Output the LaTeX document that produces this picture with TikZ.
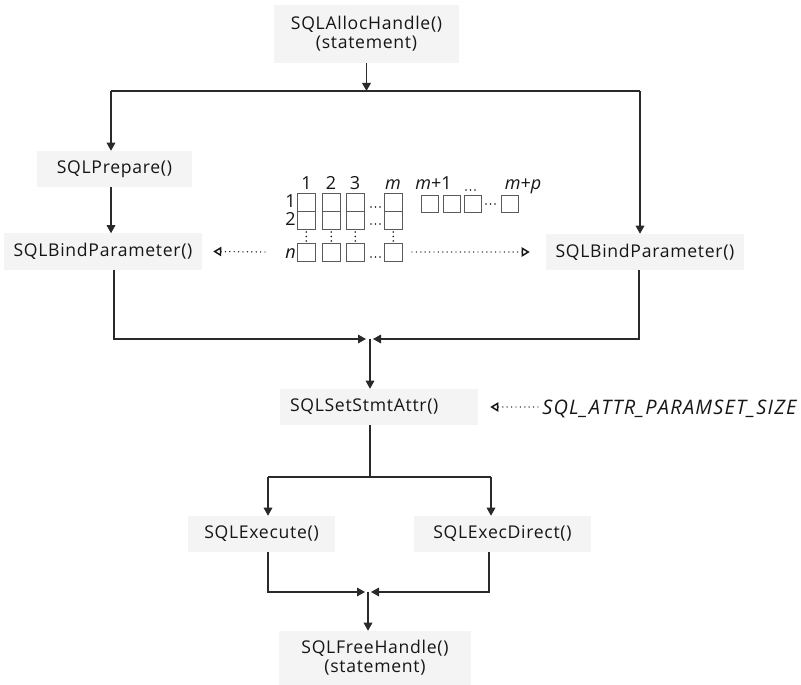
\documentclass[tikz,border=0pt]{standalone}
\usepackage{fontspec}
\setmainfont{Open Sans}
\newfontfamily\boxfont[LetterSpace=4]{Open Sans}
\newfontfamily\attrfont[LetterSpace=6]{Open Sans}
\usetikzlibrary{arrows.meta}
\definecolor{boxfill}{HTML}{F4F4F4}
\definecolor{ink}{HTML}{161616}
\definecolor{wirecol}{HTML}{2A2A2A}
\definecolor{cellcol}{HTML}{5A5A5A}
\tikzset{>={Triangle[length=6pt,width=6.5pt]}}
\tikzset{
  fn/.style={fill=boxfill, text=ink, inner sep=0pt, minimum height=27pt,
    align=center, font=\boxfont\fontsize{13.2}{14}\selectfont},
  lab/.style={inner sep=0pt, text=ink, font=\fontsize{13.5}{14}\selectfont},
  wire/.style={draw=wirecol, line width=0.9pt},
  dotarr/.style={draw=ink, line width=1.1pt, line cap=round,
    dash pattern=on 0pt off 3.3pt, -{Triangle[open,length=6pt,width=7pt]}},
  cell/.style={draw=cellcol, line width=0.6pt}
}

\begin{document}
\begin{tikzpicture}[x=0.75pt, y=-0.75pt]
\useasboundingbox (0,0) rectangle (801,685);
% function boxes
\node[fn, minimum width=138.75pt, minimum height=43.5pt] (alloc) at (366.5,34) {SQLAllocHandle()\\(statement)};
\node[fn, minimum width=116.25pt] (prep) at (114.5,169) {SQLPrepare()};
\node[fn, minimum width=148.5pt] (bindL) at (103,251.5) {SQLBindParameter()};
\node[fn, minimum width=148.5pt] (bindR) at (645,252) {SQLBindParameter()};
\node[fn, text width=133.5pt, inner xsep=7.5pt, align=left] (setattr) at (379,407) {SQLSetStmtAttr()};
\node[fn, minimum width=110.25pt] (exec) at (261.5,534) {SQLExecute()};
\node[fn, minimum width=132.75pt] (execdir) at (502.5,534) {SQLExecDirect()};
\node[fn, minimum width=144pt, minimum height=40.5pt] (free) at (375,658) {SQLFreeHandle()\\(statement)};
\node[lab, font=\attrfont\fontsize{15}{16}\selectfont, anchor=west] (attr) at (542,409) {\textit{SQL\_ATTR\_PARAMSET\_SIZE}};

% split after the handle
\coordinate (split1L) at (111,91);
\coordinate (split1R) at (640,91);
\draw[wire,->] (alloc.south) -- (alloc.south |- split1L);
\draw[wire] (split1L) -- (split1R);
\draw[wire,->] (split1L) -- (split1L |- prep.north);
\draw[wire,->] (split1R) -- (split1R |- bindR.north);
\draw[wire,->] (prep.south -| split1L) -- (split1L |- bindL.north);

% merge into SQLSetStmtAttr
\coordinate (mergeL) at (114,339);
\coordinate (mergeR) at (639,339);
\coordinate (joinL) at (366,339);
\coordinate (joinR) at (373,339);
\coordinate (join) at (370,339);
\draw[wire,->] (bindL.south -| mergeL) -- (mergeL) -- (joinL);
\draw[wire,->] (bindR.south -| mergeR) -- (mergeR) -- (joinR);
\draw[wire,->] (join) -- (join |- setattr.north);

% split to the two execute calls
\coordinate (split2) at (370,477);
\coordinate (split2L) at (268,477);
\coordinate (split2R) at (491,477);
\draw[wire] (setattr.south -| split2) -- (split2);
\draw[wire] (split2L) -- (split2R);
\draw[wire,->] (split2L) -- (split2L |- exec.north);
\draw[wire,->] (split2R) -- (split2R |- execdir.north);

% merge into SQLFreeHandle
\coordinate (merge2L) at (268,592);
\coordinate (merge2R) at (489,592);
\coordinate (join2L) at (365,592);
\coordinate (join2R) at (371,592);
\coordinate (join2) at (368,592);
\draw[wire,->] (exec.south -| merge2L) -- (merge2L) -- (join2L);
\draw[wire,->] (execdir.south -| merge2R) -- (merge2R) -- (join2R);
\draw[wire,->] (join2) -- (join2 |- free.north);

% parameter array
\foreach \x in {297,322,346,384} {
  \draw[cell] (\x,193) rectangle ++(18.5,18) (\x,211) rectangle ++(18.5,18)
    (\x,243.5) rectangle ++(18.5,18);
  \foreach \y in {232,236.5,241}
    \fill[ink] (\x+9.25,\y) circle (0.7pt);
}
\foreach \y in {207,224,257}
  \foreach \x in {371,375.5,380}
    \fill[ink] (\x,\y) circle (0.7pt);
\foreach \x in {421,443,464,501}
  \draw[cell] (\x,195) rectangle ++(17.5,17.5);
\foreach \x in {486,490.5,495}
  \fill[ink] (\x,204) circle (0.7pt);
\foreach \x in {466,470.5,475}
  \fill[ink] (\x,190) circle (0.7pt);

% array labels
\foreach \t/\x [count=\i] in {1/306.5, 2/331, 3/355, \textit{m}/393}
  \node[lab, anchor=base] (head\i) at (\x,190) {\t};
\node[lab, anchor=base] (headm1) at (433.5,190) {\textit{m}+1};
\node[lab, anchor=base] (headmp) at (523,190) {\textit{m}+\textit{p}};
\node[lab, anchor=base east] (row1) at (296,208) {1};
\node[lab, anchor=base east] (row2) at (296,225) {2};
\node[lab, anchor=base east] (rown) at (296,258) {\textit{n}};

% dotted pointers
\coordinate (dotL) at (265,252);
\coordinate (dotR) at (412,252);
\draw[dotarr] (dotL) -- ([xshift=8.25pt]bindL.east);
\draw[dotarr] (dotR) -- ([xshift=-12pt]bindR.west);
\draw[dotarr] ([xshift=-3pt]attr.west |- setattr.east) -- ([xshift=9pt]setattr.east);
\end{tikzpicture}
\end{document}
